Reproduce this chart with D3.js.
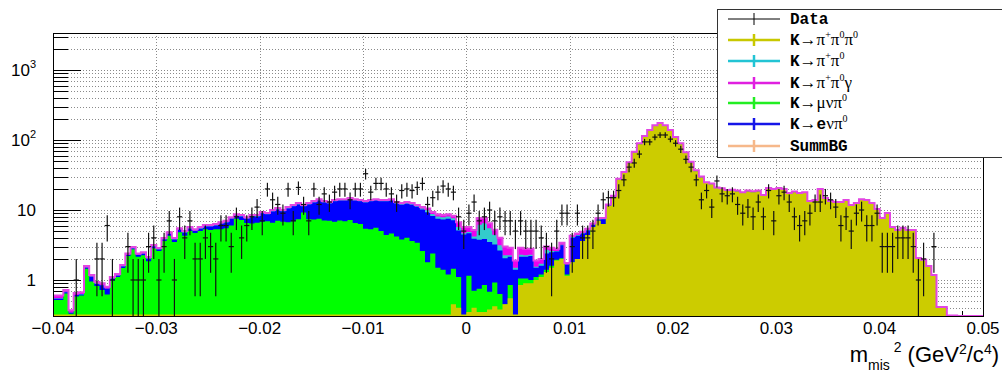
<!DOCTYPE html>
<html><head><meta charset="utf-8">
<script src="https://cdn.jsdelivr.net/npm/d3@7"></script>
<style>body{margin:0;background:#fff}svg{display:block}</style>
</head><body>
<svg id="c" width="1002" height="376"></svg>
<script>
// ---- data ----
const xMin = -0.04, xMax = 0.05;
const k3pi = [
0,0,0,0,0,0,0,0,0,0, 0,0,0,0,0,0,0,0,0,0, 0,0,0,0,0,0,0,0,0,0, 0,0,0,0,0,0,0,0,0,0,
0,0,0,0,0,0,0,0,0,0, 0,0,0,0,0,0,0,0,0,0, 0,0,0,0,0,0,0,0,0,0,
0,0,0,0,0,0,0,0.45,0.4,0.2,
0.35,0.4,0.35,0.35,0.38,0.42,0.38,0.45,0.55,0.3,
0.85,0.9,0.9,1.0,1.1,1.3,1.5,1.9,2.0,1.15,
1.8,2.0,3.6,4.4,5.7,7.0,6.3,11.4,15.3,27.2,
34,46.6,66,87.3,110.6,135,158,170,158,135,
106.7,87.3,65,47.5,35.9,29.1,24.3,23.3,20.4,19.9,
18.7,18.9,18.4,17.5,18.4,17.9,18.4,15.9,20,19.4,
20,19.4,17,17.9,17,17.5,13,13.5,19.4,14.4,
13,12.6,12.6,13.5,11.4,12.2,13.9,13.5,12.2,10,
7.5,8.8,5.5,5.05,5.4,5.05,5.05,2.0,1.9,1.53,
1.14,0.4,0.4,0.31,0.31,0,0,0,0,0];
const kmu3 = [
0.52,0.52,0.64,0.33,0.58,0.6,1.45,0.95,0.82,0.72,
0.62,0.98,1.1,1.48,2.2,2.75,2.15,2.25,1.85,2.85,
2.6,3.6,4.3,3.5,4.8,4.3,5.0,4.7,5.0,5.3,
5.2,5.3,5.3,5.5,6.0,7.5,7.2,6.5,6.4,6.6,
6.8,6.9,6.6,7.0,6.8,6.7,6.9,7.4,9.2,7.4,
7.3,7.5,7.1,7.0,6.8,7.1,6.9,7.2,6.5,6.3,
5.4,5.3,5.6,5.0,4.4,4.6,4.2,3.8,4.0,3.6,
3.4,2.6,1.8,2.4,1.5,1.4,1.2,1.0,0.7,0.05,
0.8,0.3,0.4,0.5,0.3,0.5,0.25,0,0.3,0,
0.2,0.15,0.1,0.1,0.1,0.1,0.1,0.05,0.05,0.05,
0,0,0,0,0,0,0,0,0,0, 0,0,0,0,0,0,0,0,0,0, 0,0,0,0,0,0,0,0,0,0, 0,0,0,0,0,0,0,0,0,0,
0,0,0,0,0,0,0,0,0,0, 0,0,0,0,0,0,0,0,0,0, 0,0,0,0,0,0,0,0,0,0, 0,0,0,0,0,0,0,0,0,0];
const ke3 = [
0.02,0.02,0.03,0.01,0.03,0.02,0.05,0.16,0.06,0.12,
0.13,0.06,0.05,0.08,0.08,0.08,0.12,0.13,0.16,0.15,
0.12,0.18,0.26,0.28,0.44,0.45,0.42,0.32,0.42,0.5,
0.6,0.7,1.05,1.15,1.5,0.8,0.9,1.0,1.7,1.5,
2.2,1.8,2.9,3.2,2.8,3.8,4.4,4.6,2.1,4.6,
5.5,6.2,5.7,5.4,6.5,6.6,6.8,7.0,7.2,7.0,
7.4,8.0,8.1,8.3,8.9,9.1,8.2,8.1,8.3,8.3,
7.7,7.6,7.5,5.8,6.0,5.9,6.3,5.7,4.0,4.2,
3.5,3.2,3.0,3.0,2.8,2.3,2.0,1.6,1.3,1.1,
1.1,1.1,1.2,0.4,0.4,1.0,0.9,0.6,1.1,0.45,
2.2,2.3,1.0,0.7,0.45,0.3,1.1,0.2,0.2,0,
0,0,0,0,0,0,0,0,0,0, 0,0,0,0,0,0,0,0,0,0, 0,0,0,0,0,0,0,0,0,0,
0,0,0,0,0,0,0,0,0,0, 0,0,0,0,0,0,0,0,0,0, 0,0,0,0,0,0,0,0,0,0, 0,0,0,0,0,0,0,0,0,0];
const k2pi = [
0.01,0.01,0.01,0,0,0.01,0.01,0.01,0.01,0.01,
0,0.01,0.01,0.01,0.02,0.02,0.03,0.02,0.02,0.03,
0.02,0.03,0.04,0.03,0.04,0.05,0.05,0.05,0.05,0.05,
0.05,0.05,0.07,0.07,0.08,0.08,0.08,0.08,0.08,0.08,
0.08,0.08,0.1,0.1,0.1,0.1,0.1,0.1,0.1,0.1,
0.1,0.1,0.1,0.1,0.1,0.1,0.1,0.1,0.1,0.1,
0.1,0.1,0.1,0.1,0.1,0.1,0.1,0.2,0.2,0.2,
0.2,0.3,0.6,0.6,0.6,0.6,0.6,0.5,0.6,0.2,
0.2,0.3,2.4,2.6,2.0,1.2,0.5,0.2,0.1,0.1,
0.15,0.1,0.1,0.05,0.1,0.3,0.1,0.05,0.05,0,
0.1,0.1,0.1,0.1,0.05,0.05,0.05,0.1,0.1,0,
0,0,0,0,0,0,0,0,0,0, 0,0,0,0,0,0,0,0,0,0, 0,0,0,0,0,0,0,0,0,0,
0,0,0,0,0,0,0,0,0,0, 0,0,0,0,0,0,0,0,0,0, 0,0,0,0,0,0,0,0,0,0, 0,0,0,0,0,0,0,0,0,0];
const k2pig = [
0.05,0.05,0.04,0.03,0.04,0.04,0.07,0.06,0.05,0.05,
0.05,0.05,0.06,0.07,0.1,0.12,0.1,0.1,0.1,0.13,
0.12,0.17,0.2,0.17,0.22,0.2,0.23,0.23,0.23,0.25,
0.25,0.25,0.28,0.28,0.32,0.32,0.32,0.32,0.32,0.32,
0.32,0.32,0.4,0.4,0.3,0.4,0.4,0.5,0.4,0.5,
0.5,0.5,0.5,0.5,0.5,0.5,0.5,0.5,0.5,0.5,
0.5,0.5,0.5,0.5,0.5,0.5,0.5,0.5,0.5,0.5,
0.5,0.5,0.6,0.6,0.6,0.6,0.6,0.6,1.0,1.05,
0.85,1.0,1.55,1.25,1.0,0.8,0.87,0.75,0.65,0.4,
0.6,0.55,0.5,0.35,0.3,0.3,0.3,0.2,0.2,0.1,
0.2,0.2,0.2,0.2,0.2,0.25,0.25,0.3,0.4,0.8,
1.0,1.4,2,2.7,3.4,4,5,5,5,4,
3.3,2.7,2,1.5,1.1,0.9,0.7,0.7,0.6,0.6,
0.6,0.6,0.6,0.5,0.6,0.6,0.6,0.5,0.6,0.6,
0.6,0.6,0.5,0.5,0.5,0.5,0.4,0.4,0.6,0.4,
0.4,0.4,0.4,0.4,0.4,0.4,0.4,0.4,0.4,0.3,
0.2,0.3,0.2,0.15,0.2,0.15,0.15,0.06,0.05,0.05,
0.04,0.01,0.01,0,0,0,0,0,0,0];
const dataCounts = [
0,0,0,0,1,0,0,0,2,2, 6,1,0,0,3,1,1,1,3,4, 1,3,7,1,8,4,7,2,2,4,
3,2,6,6,3,8,4,6,8,11, 7,20,14,12,9,20,7,21,12,7, 20,12,17,13,18,20,20,14,20,20,
33,18,24,24,20,17,13,19,20,19, 21,24,12,15,18,22,20,18,8,5, 9,13,7,8,10,7,8,7,7,5,
7,5,5,5,4,3,2,5,9,9, 3,9,4,4,5,9,14,15,15,19, 27,41,47,63,94,94,110,118,118,103,
90,74,53,41,27,14,19,11,26,17, 16,17,12,9,11,8,13,8,19,7, 16,18,13,8,6,7,9,13,13,16,
14,11,6,8,5,9,10,6,6,9, 3,3,3,4,4,4,3,1,2,0, 3,0,0,0,0,0,0,0,0,0];
const xTickValues = [-0.04,-0.03,-0.02,-0.01,0,0.01,0.02,0.03,0.04,0.05];
const xTickLabels = ["\u22120.04","\u22120.03","\u22120.02","\u22120.01","0","0.01","0.02","0.03","0.04","0.05"];
const yDecades = [1,10,100,1000];
const yDecadeLabels = [["1",""],["10",""],["10","2"],["10","3"]];
const yMinorTicks = [0.4,0.5,0.6,0.7,0.8,0.9,2,3,4,5,6,7,8,9,20,30,40,50,60,70,80,90,200,300,400,500,600,700,800,900,2000,3000];
const legendEntries = [
  {name:"Data", color:"#000000"},
  {name:"K3pi", color:"#c8c800"},
  {name:"K2pi", color:"#22c4d4"},
  {name:"K2pig", color:"#e020e0"},
  {name:"Kmu3", color:"#22ee22"},
  {name:"Ke3", color:"#1515e8"},
  {name:"SummBG", color:"#f6b88a"}];

// ---- layout ----
const svg = d3.select("#c");
const L = 53, R = 983, T = 33, B = 316;
const yMin = 0.306, yMax = 3380;
const x = d3.scaleLinear().domain([xMin, xMax]).range([L, R]);
const y = d3.scaleLog().domain([yMin, yMax]).range([B, T]);
const n = k3pi.length, bw = (xMax - xMin) / n;
const edge = i => xMin + i * bw;

svg.append("rect").attr("width",1002).attr("height",376).attr("fill","#fff");
svg.append("defs").append("clipPath").attr("id","fr").append("rect")
  .attr("x",L).attr("y",T).attr("width",R-L).attr("height",B-T);

// grid
const grid = svg.append("g").attr("stroke","#8a8a8a").attr("stroke-width",1).attr("stroke-dasharray","1,2");
yDecades.concat(yMinorTicks).forEach(v => {
  const yy = Math.round(y(v)) + 0.5;
  grid.append("line").attr("x1",L).attr("x2",R).attr("y1",yy).attr("y2",yy);
});
xTickValues.slice(1,-1).forEach(v => {
  const xx = Math.round(x(v)) + 0.5;
  grid.append("line").attr("x1",xx).attr("x2",xx).attr("y1",T).attr("y2",B);
});

// ticks (drawn under histograms)
const tk = svg.append("g").attr("stroke","#000").attr("stroke-width",1);
yDecades.forEach(v => { const yy = Math.round(y(v))+0.5; tk.append("line").attr("x1",L).attr("x2",L+28).attr("y1",yy).attr("y2",yy); });
yMinorTicks.forEach(v => { const yy = Math.round(y(v))+0.5; tk.append("line").attr("x1",L).attr("x2",L+15).attr("y1",yy).attr("y2",yy); });
d3.range(-0.04, 0.0501, 0.002).forEach((v,i) => {
  const xx = Math.round(x(v))+0.5; const len = (i % 5 === 0) ? 9 : 5;
  tk.append("line").attr("x1",xx).attr("x2",xx).attr("y1",B).attr("y2",B-len);
});

// stacked histogram
const keys = ["k3pi","kmu3","ke3","k2pi","k2pig"];
const fills = {k3pi:"#cccc00", kmu3:"#00ff00", ke3:"#0000ff", k2pi:"#33cccc", k2pig:"#ee00ee"};
const table = d3.range(n).map(i => ({k3pi:k3pi[i], kmu3:kmu3[i], ke3:ke3[i], k2pi:k2pi[i], k2pig:k2pig[i]}));
const series = d3.stack().keys(keys)(table);
const clampY = v => y(Math.max(v, yMin));
const hist = svg.append("g").attr("clip-path","url(#fr)");
for (let s = series.length - 1; s >= 0; s--) {
  const cum = series[s].map(d => d[1]);
  const pts = cum.map((v,i) => [x(edge(i)), clampY(v)]);
  pts.push([x(xMax), clampY(cum[n-1])]);
  const area = d3.area().curve(d3.curveStepAfter).x(d => d[0]).y0(B).y1(d => d[1]);
  hist.append("path").attr("d", area(pts)).attr("fill", fills[series[s].key]).attr("stroke","none");
}
hist.append("line").attr("x1",L).attr("x2",x(edge(173))).attr("y1",B-0.5).attr("y2",B-0.5)
  .attr("stroke","#cccc00").attr("stroke-width",2);
const tot = series[series.length-1].map(d => d[1]);
const tp = tot.map((v,i) => [x(edge(i)), clampY(v)]); tp.push([x(xMax), clampY(tot[n-1])]);
hist.append("path").attr("d", d3.line().curve(d3.curveStepAfter)(tp))
  .attr("fill","none").attr("stroke","#e246e2").attr("stroke-width",2);

// data points
const dg = svg.append("g").attr("clip-path","url(#fr)").attr("stroke","#111").attr("stroke-width",1.2);
dataCounts.forEach((c,i) => {
  if (c <= 0) return;
  const x0 = x(edge(i)), x1 = x(edge(i+1)), xc = (x0+x1)/2, e = Math.sqrt(c);
  dg.append("line").attr("x1",x0).attr("x2",x1).attr("y1",y(c)).attr("y2",y(c));
  dg.append("line").attr("x1",xc).attr("x2",xc).attr("y1",y(c+e)).attr("y2",clampY(c-e));
});

// frame
svg.append("rect").attr("x",L+0.5).attr("y",T+0.5).attr("width",R-L).attr("height",B-T)
  .attr("fill","none").attr("stroke","#000").attr("stroke-width",1);

// axis labels
const lab = svg.append("g").attr("font-family","'Liberation Sans', Arial, sans-serif").attr("fill","#000");
xTickValues.forEach((v,i) => {
  lab.append("text").attr("x", x(v)).attr("y", 334).attr("text-anchor","middle")
    .attr("font-size",17).text(xTickLabels[i]);
});
yDecades.forEach((v,i) => {
  const t = lab.append("text").attr("x",36).attr("y",y(v)+6).attr("text-anchor","end").attr("font-size",17);
  t.append("tspan").text(yDecadeLabels[i][0]);
  if (yDecadeLabels[i][1]) t.append("tspan").attr("dy",-8).attr("font-size",11).text(yDecadeLabels[i][1]);
});
// x title
const xt = lab.append("text").attr("x",999).attr("y",362).attr("text-anchor","end").attr("font-size",22);
xt.append("tspan").text("m");
xt.append("tspan").attr("dy",8).attr("font-size",14).text("mis");
xt.append("tspan").attr("dy",-18).attr("font-size",14).text(" 2");
xt.append("tspan").attr("dy",10).text(" (GeV");
xt.append("tspan").attr("dy",-8).attr("font-size",14).text("2");
xt.append("tspan").attr("dy",8).text("/c");
xt.append("tspan").attr("dy",-8).attr("font-size",14).text("4");
xt.append("tspan").attr("dy",8).text(")");

// legend
const lg = svg.append("g");
lg.append("rect").attr("x",717.5).attr("y",9.5).attr("width",300).attr("height",148)
  .attr("fill","#fff").attr("stroke","#333").attr("stroke-width",1);
const rowY = [19,40,61,83,103,124,146];
const labelParts = [
  [["Data","m"]],
  [["K","m"],["\u2192\u03c0","s"],["+","sup"],["\u03c0","s"],["0","sup"],["\u03c0","s"],["0","sup"]],
  [["K","m"],["\u2192\u03c0","s"],["+","sup"],["\u03c0","s"],["0","sup"]],
  [["K","m"],["\u2192\u03c0","s"],["+","sup"],["\u03c0","s"],["0","sup"],["\u03b3","s"]],
  [["K","m"],["\u2192\u03bc\u03bd\u03c0","s"],["0","sup"]],
  [["K","m"],["\u2192","s"],["e","m"],["\u03bd\u03c0","s"],["0","sup"]],
  [["SummBG","m"]]];
legendEntries.forEach((e,i) => {
  const yy = rowY[i];
  const w = i === 0 ? 1 : 2.5;
  lg.append("line").attr("x1",728).attr("x2",780).attr("y1",yy).attr("y2",yy).attr("stroke",e.color).attr("stroke-width",w);
  lg.append("line").attr("x1",754).attr("x2",754).attr("y1",yy-6).attr("y2",yy+6).attr("stroke",e.color).attr("stroke-width",w);
  const t = lg.append("text").attr("x",790).attr("y",yy+5).attr("font-size",16).attr("fill","#000");
  let raised = false;
  labelParts[i].forEach(([s,kind]) => {
    const sp = t.append("tspan").text(s);
    if (kind === "m") sp.attr("font-family","'Liberation Mono', monospace").attr("font-weight","bold");
    else if (kind === "s") sp.attr("font-family","'Liberation Serif', serif").attr("font-size",17);
    else sp.attr("font-family","'Liberation Serif', serif").attr("font-size",10);
    if (kind === "sup" && !raised) { sp.attr("dy",-7); raised = true; }
    else if (kind !== "sup" && raised) { sp.attr("dy",7); raised = false; }
  });
});
</script>
</body></html>
